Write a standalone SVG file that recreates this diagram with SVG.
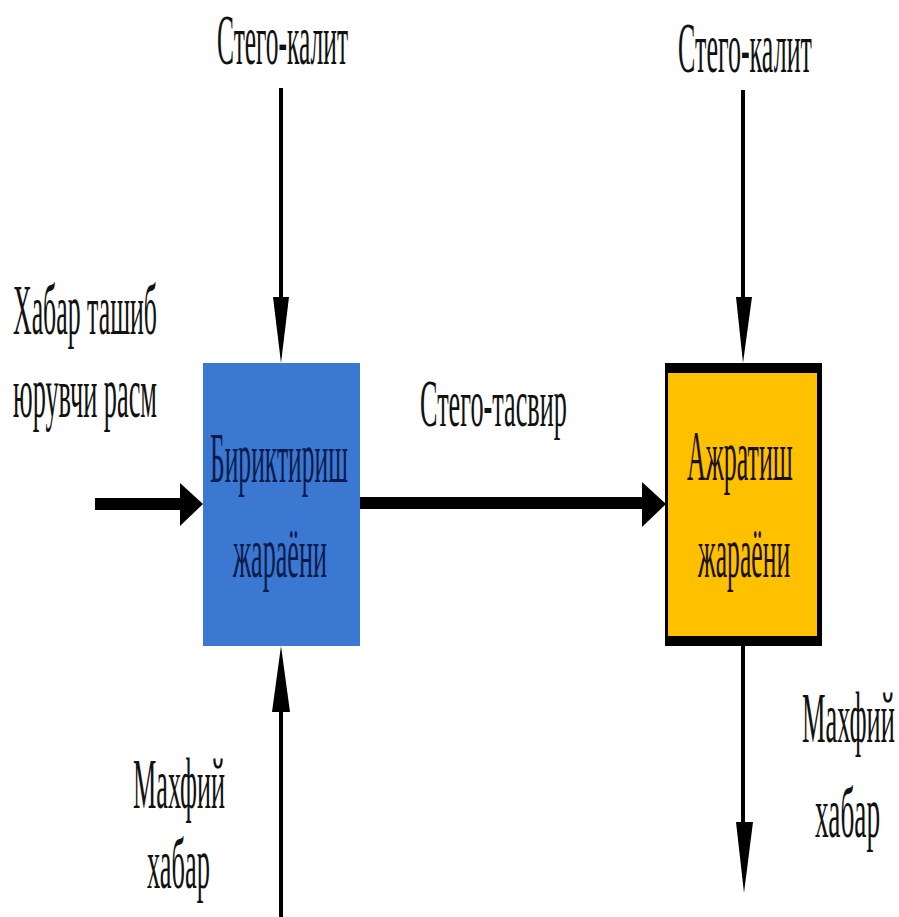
<svg xmlns="http://www.w3.org/2000/svg" width="899" height="917" viewBox="0 0 899 917">
<style>
text{font-family:"Liberation Serif","Times New Roman",serif;font-size:72px;fill:#111}
.thin{stroke:#000;stroke-width:4;fill:none}
.thick{stroke:#000;stroke-width:12;fill:none}
.head{fill:#000}
</style>
<rect width="899" height="917" fill="#fff"/>
<g id="connectors">
  <line class="thin" x1="281" y1="88" x2="281" y2="300"/>
  <polygon class="head" points="273,297 289,297 281,363"/>
  <line class="thin" x1="743" y1="90" x2="743" y2="300"/>
  <polygon class="head" points="736,297 752,297 743,363"/>
  <line class="thick" x1="95" y1="504" x2="184" y2="504"/>
  <polygon class="head" points="180,483 203,504 180,526"/>
  <line class="thick" x1="359" y1="503" x2="646" y2="503"/>
  <polygon class="head" points="642,482 666,504 642,527"/>
  <line class="thin" x1="281" y1="917" x2="281" y2="708"/>
  <polygon class="head" points="272,712 290,712 281,646"/>
  <line class="thin" x1="743" y1="646" x2="743" y2="826"/>
  <polygon class="head" points="736,822 753,822 744,893"/>
</g>
<g id="label-key1"><text transform="translate(217,64) scale(0.36,1)" textLength="364" lengthAdjust="spacingAndGlyphs">Стего-калит</text></g>
<g id="label-key2"><text transform="translate(678,72) scale(0.36,1)" textLength="372" lengthAdjust="spacingAndGlyphs">Стего-калит</text></g>
<g id="label-cover">
  <text transform="translate(13,334) scale(0.36,1)" textLength="400" lengthAdjust="spacingAndGlyphs">Хабар ташиб</text>
  <text transform="translate(13,417) scale(0.36,1)" textLength="400" lengthAdjust="spacingAndGlyphs">юрувчи расм</text>
</g>
<g id="label-stego"><text transform="translate(420,426) scale(0.36,1)" textLength="408" lengthAdjust="spacingAndGlyphs" style="font-size:68px">Стего-тасвир</text></g>
<g id="node-embed">
  <rect x="203" y="363" width="157" height="283" fill="#3a78d2"/>
  <text transform="translate(210,482) scale(0.36,1)" textLength="383" lengthAdjust="spacingAndGlyphs" style="fill:#0d1b4d">Бириктириш</text>
  <text transform="translate(233,577) scale(0.36,1)" textLength="261" lengthAdjust="spacingAndGlyphs" style="fill:#0d1b4d">жараёни</text>
</g>
<g id="node-extract">
  <rect x="665" y="363" width="157" height="283" fill="#000"/>
  <rect x="668" y="373" width="149" height="263" fill="#ffc000"/>
  <text transform="translate(687,480) scale(0.36,1)" textLength="294" lengthAdjust="spacingAndGlyphs" style="fill:#1a1000">Ажратиш</text>
  <text transform="translate(698,577) scale(0.36,1)" textLength="256" lengthAdjust="spacingAndGlyphs" style="fill:#1a1000">жараёни</text>
</g>
<g id="label-secret1">
  <text transform="translate(133,808) scale(0.36,1)" textLength="256" lengthAdjust="spacingAndGlyphs">Махфий</text>
  <text transform="translate(147,888) scale(0.36,1)" textLength="175" lengthAdjust="spacingAndGlyphs">хабар</text>
</g>
<g id="label-secret2">
  <text transform="translate(802,742) scale(0.36,1)" textLength="258" lengthAdjust="spacingAndGlyphs">Махфий</text>
  <text transform="translate(815,837) scale(0.36,1)" textLength="181" lengthAdjust="spacingAndGlyphs">хабар</text>
</g>
</svg>
